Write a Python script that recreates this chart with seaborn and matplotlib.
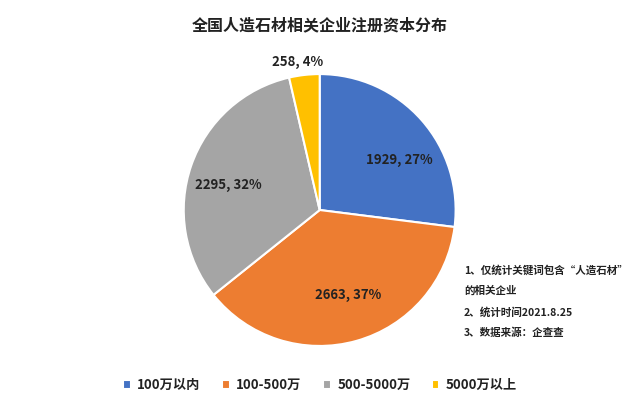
import numpy as np
import matplotlib
matplotlib.use("Agg")
import matplotlib.pyplot as plt
import seaborn as sns

title = "全国人造石材相关企业注册资本分布"
categories = ["100万以内", "100-500万", "500-5000万", "5000万以上"]
counts = [1929, 2663, 2295, 258]
percents = [27, 37, 32, 4]
notes = ["1、仅统计关键词包含“人造石材”", "的相关企业", "2、统计时间2021.8.25", "3、数据来源：企查查"]

sns.set_theme(style="white")
plt.rcParams["font.family"] = ["Noto Sans CJK SC", "DejaVu Sans"]
colors = ["#4472C4", "#ED7D31", "#A5A5A5", "#FFC000"]

fig = plt.figure(figsize=(6.4, 3.97), dpi=100)
ax = fig.add_axes([0.234, 0.043, 0.531, 0.856])
wedges, _ = ax.pie(counts, colors=colors, startangle=90, counterclock=False,
                   wedgeprops=dict(edgecolor="white", linewidth=1.5))
ax.set_aspect("equal")

# label positions from wedge middles
label_r = [0.69, 0.66, 0.70, 1.10]
angle_shift = [-9, 3, 4, 2]
for w, c, p, r, s in zip(wedges, counts, percents, label_r, angle_shift):
    mid = np.deg2rad((w.theta1 + w.theta2) / 2 + s)
    ax.text(r * np.cos(mid), r * np.sin(mid), f"{c}, {p}%", ha="center", va="center",
            fontsize=9.5, fontweight="bold", color="#222222")

fig.text(0.5, 0.937, title, ha="center", va="center", fontsize=11.5,
         fontweight="bold", color="#222222")

for i, line in enumerate(notes):
    fig.text(0.725, 1 - (270 + i * 21) / 397, line, ha="left", va="center",
             fontsize=7.6, fontweight="bold", color="#222222")

leg = fig.legend(wedges, categories, loc="center", bbox_to_anchor=(0.5, 0.03),
                 ncol=4, frameon=False, handlelength=0.6, handleheight=0.6,
                 columnspacing=1.6, handletextpad=0.5,
                 prop=dict(size=9.5, weight="bold"))
for t in leg.get_texts():
    t.set_color("#222222")

fig.savefig("out.png", dpi=100, facecolor="white")
